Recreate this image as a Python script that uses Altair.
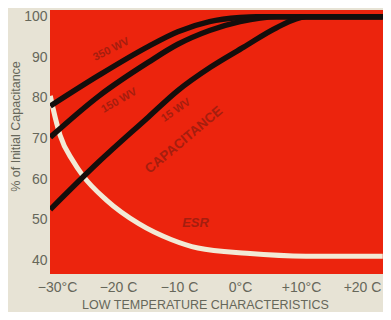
import altair as alt
import pandas as pd

# ---- data ----
c1_t = [-31.1, -23.1, -15.0, -10.2, -5.0, 0.0, 2.7, 23.4]
c1_v = [78.0, 85.6, 92.7, 96.3, 98.8, 99.8, 100.0, 100.0]

c2_t = [-31.1, -23.1, -15.0, -10.2, -5.0, 0.0, 6.0, 23.4]
c2_v = [70.3, 80.5, 88.8, 93.2, 96.6, 98.8, 100.0, 100.0]

c3_t = [-31.1, -23.1, -15.0, -10.2, -4.8, 0.6, 6.0, 10.8, 23.4]
c3_v = [52.5, 64.3, 75.3, 81.8, 87.6, 92.5, 97.3, 100.0, 100.0]

esr_t = [-31.1, -30.65, -29.5, -27.4, -25.8, -21.9, -16.6, -11.3, -6.9, 1.1, 10.8, 23.4]
esr_v = [80.5, 77.4, 70.8, 64.5, 60.9, 54.8, 49.0, 45.1, 43.0, 41.7, 41.0, 41.0]

x_ticks = [-30, -20, -10, 0, 10, 20]
x_tick_labels = ["\u221230\u00b0C", "\u221220 C", "\u221210 C", "0\u00b0C", "+10\u00b0C", "+20 C"]
y_ticks = [40, 50, 60, 70, 80, 90, 100]

label_text = ["350 WV", "150 WV", "15 WV", "CAPACITANCE", "ESR"]
label_t = [-21.1, -19.8, -10.5, -9.2, -7.3]
label_v = [91.9, 79.3, 76.9, 69.6, 49.2]
label_angle = [333, 330, 325, 320, 0]
label_size = [11, 11, 11, 13.5, 13]

# ---- build tables ----
curves = pd.concat([
    pd.DataFrame({"t": c1_t, "v": c1_v, "s": "c1"}),
    pd.DataFrame({"t": c2_t, "v": c2_v, "s": "c2"}),
    pd.DataFrame({"t": c3_t, "v": c3_v, "s": "c3"}),
])
esr = pd.DataFrame({"t": esr_t, "v": esr_v})
labels = pd.DataFrame({"text": label_text, "t": label_t, "v": label_v,
                       "angle": label_angle, "size": label_size})

expr = "''"
for val, lab in zip(reversed(x_ticks), reversed(x_tick_labels)):
    expr = f"datum.value == {val} ? '{lab}' : {expr}"

xscale = alt.Scale(domain=[-31.15, 23.44], nice=False, zero=False)
yscale = alt.Scale(domain=[36.6, 101.65], nice=False, zero=False)

xaxis = alt.Axis(values=x_ticks, labelExpr=expr, title="LOW TEMPERATURE CHARACTERISTICS",
                 labelPadding=6, labelFontSize=14, titleFontSize=12.5,
                 titleFontWeight="normal", titleX=155, titleY=30,
                 titleAlign="center", titleBaseline="middle", labelFlush=False)
yaxis = alt.Axis(values=y_ticks, title="% of Initial Capacitance", labelPadding=3,
                 labelFontSize=14, titleFontSize=12.5, titleFontWeight="normal",
                 titleX=-35, titleY=116, titleAlign="center", titleBaseline="middle",
                 titleAngle=270)

esr_line = alt.Chart(esr).mark_line(color="#f2ead6", strokeWidth=5, clip=True,
                                    interpolate="monotone").encode(
    x=alt.X("t:Q", scale=xscale, axis=xaxis),
    y=alt.Y("v:Q", scale=yscale, axis=yaxis),
)

black_lines = alt.Chart(curves).mark_line(color="#140e0c", strokeWidth=5.5, clip=True,
                                          interpolate="monotone").encode(
    x=alt.X("t:Q", scale=xscale),
    y=alt.Y("v:Q", scale=yscale),
    detail="s:N",
)

text_layers = []
for i in range(len(label_text)):
    d = labels.iloc[[i]]
    text_layers.append(
        alt.Chart(d).mark_text(
            angle=label_angle[i], fontSize=label_size[i], fontWeight="bold",
            fontStyle="italic" if label_text[i] == "ESR" else "normal",
            color="#8e1c10", opacity=0.75, font="Liberation Sans",
            align="center", baseline="middle",
        ).encode(
            x=alt.X("t:Q", scale=xscale),
            y=alt.Y("v:Q", scale=yscale),
            text="text:N",
        )
    )

chart = alt.layer(esr_line, black_lines, *text_layers).properties(
    width=333, height=264,
    autosize=alt.AutoSizeParams(type="none"),
    padding={"left": 42, "top": 2, "right": 0, "bottom": 38},
    background="#e7e3d5",
).configure_view(
    fill="#ec240d", strokeWidth=0,
).configure_axis(
    domain=False, ticks=False, grid=False,
    labelColor="#66675a", titleColor="#66675a",
    labelFont="Liberation Sans", titleFont="Liberation Sans",
)

chart.save("out.html", embed_options={"renderer": "svg", "actions": False})
